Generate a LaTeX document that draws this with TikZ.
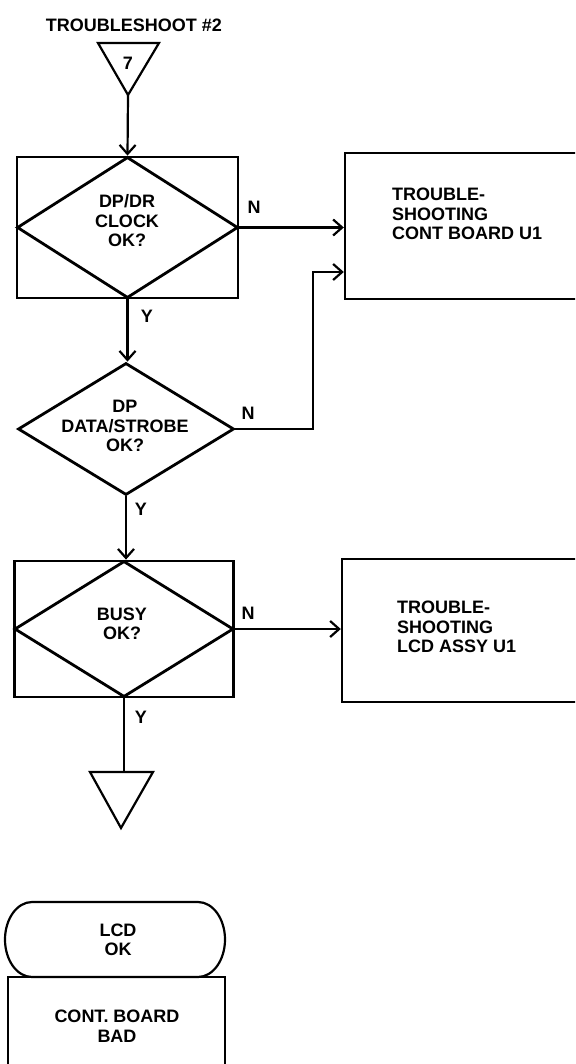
\documentclass[tikz,border=0pt]{standalone}
\usepackage{fontspec}
\setmainfont{Liberation Sans}
\usetikzlibrary{shapes.geometric,arrows.meta,calc}
\begin{document}
\begin{tikzpicture}[x=1pt,y=-1pt,
  lbl/.style={font=\fontsize{18}{19.5}\selectfont\bfseries, inner sep=0pt, align=center},
  lbll/.style={font=\fontsize{18}{19.5}\selectfont\bfseries, inner sep=0pt, align=left, anchor=west},
  boxr/.style={draw, line width=2.4pt, rectangle, inner sep=0pt},
  dmd/.style={draw, line width=2.8pt, diamond, inner sep=0pt},
  conn/.style={line width=2.2pt},
  arr/.style={line width=2.2pt, -{Straight Barb[length=9pt,width=16pt,line width=2.2pt]}},
  outl/.style={line width=2.2pt, line join=miter}
]
\useasboundingbox (0,0) rectangle (575,1064);
\clip (0,0) rectangle (575,1064);
\fill[white] (0,0) rectangle (575,1064);

% title and entry connector
\node[lbl] (title) at (134,25) {TROUBLESHOOT \#2};
\coordinate (t1a) at (98,43);
\coordinate (t1b) at (159,43);
\coordinate (t1c) at (128,95);
\draw[outl] (t1a) -- (t1b) -- (t1c) -- cycle;
\node[lbl] (seven) at (128,63) {7};

% decision 1
\node[boxr, minimum width=221pt, minimum height=141pt] (b1) at (127.5,227.5) {};
\node[dmd, minimum width=221pt, minimum height=141pt] (d1) at (127.5,227.5) {};
\node[lbl] (d1t) at (127,221) {DP/DR\\CLOCK\\OK?};
\node[lbl] (n1) at (254,207) {N};
\node[lbl] (y1) at (147,316) {Y};

% right box 1
\node[boxr, minimum width=235pt, minimum height=146pt] (r1) at (462.5,226) {};
\node[lbll] (r1t) at (392,214) {TROUBLE-\\SHOOTING\\CONT BOARD U1};

% decision 2
\node[dmd, minimum width=216pt, minimum height=132pt] (d2) at (126,429) {};
\node[lbl] (d2t) at (125,426) {DP\\DATA/STROBE\\OK?};
\node[lbl] (n2) at (248,413) {N};
\node[lbl] (y2) at (141,509) {Y};

% decision 3
\node[boxr, minimum width=219pt, minimum height=136pt] (b3) at (124,629) {};
\node[dmd, minimum width=219pt, minimum height=136pt] (d3) at (124,629) {};
\node[lbl] (d3t) at (122,624) {BUSY\\OK?};
\node[lbl] (n3) at (248,613) {N};
\node[lbl] (y3) at (141,717) {Y};

% right box 2
\node[boxr, minimum width=238pt, minimum height=143pt] (r2) at (461,630.5) {};
\node[lbll] (r2t) at (397,627) {TROUBLE-\\SHOOTING\\LCD ASSY U1};

% exit triangle
\coordinate (t2a) at (90,772);
\coordinate (t2b) at (153,772);
\coordinate (t2c) at (121,828);
\draw[outl] (t2a) -- (t2b) -- (t2c) -- cycle;

% terminal + box
\draw[outl] (32,902) -- (198,902)
  arc[start angle=-90, end angle=90, x radius=27, y radius=37.5]
  -- (32,977)
  arc[start angle=90, end angle=270, x radius=27, y radius=37.5];
\node[lbl] (lcd) at (118,940) {LCD\\OK};
\node[boxr, minimum width=217pt, minimum height=110pt] (b4) at (116.5,1032) {};
\node[lbl] (b4t) at (117,1026) {CONT. BOARD\\BAD};

% connectors
\draw[arr] (t1c) -- (d1.north);
\draw[arr] (d1.east) -- (d1.east -| r1.west);
\draw[arr] (d1.south) -- (d1.south |- d2.north);
\coordinate (k2) at (313,272);
\draw[arr] (d2.east) -| (k2) -- (k2 -| r1.west);
\draw[arr] (d2.south) -- (d2.south |- d3.north);
\draw[arr] (d3.east) -- (d3.east -| r2.west);
\draw[conn] (d3.south) -- (d3.south |- t2a);
\end{tikzpicture}
\end{document}
